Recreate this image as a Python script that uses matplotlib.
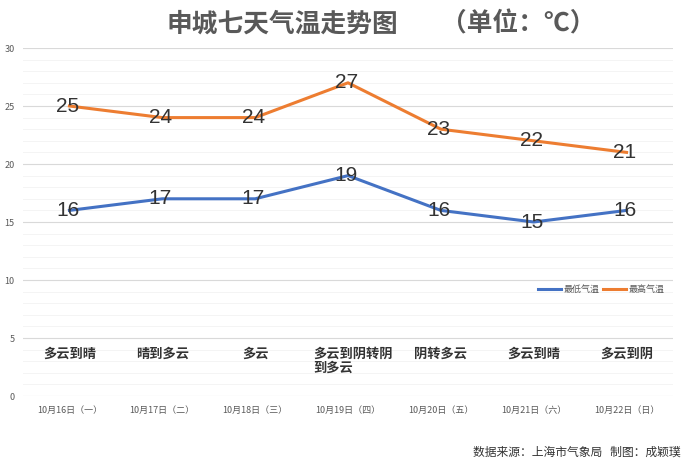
import matplotlib
matplotlib.use("Agg")
import matplotlib.pyplot as plt
from matplotlib.ticker import MultipleLocator

plt.rcParams['font.family'] = ['Noto Sans CJK SC', 'DejaVu Sans']

# data
dates = ["10月16日（一）", "10月17日（二）", "10月18日（三）", "10月19日（四）",
         "10月20日（五）", "10月21日（六）", "10月22日（日）"]
low_temp = [16, 17, 17, 19, 16, 15, 16]
high_temp = [25, 24, 24, 27, 23, 22, 21]
weather = ["多云到晴", "晴到多云", "多云", "多云到阴转阴\n到多云",
           "阴转多云", "多云到晴", "多云到阴"]

blue = "#4472C4"
orange = "#ED7D31"
num_font = ['Liberation Sans Narrow', 'Liberation Sans', 'DejaVu Sans']

fig = plt.figure(figsize=(7, 4.71), dpi=100)
ax = fig.add_axes([23 / 700, 1 - 396 / 471, 650 / 700, 348 / 471])

x = list(range(len(dates)))
ax.plot(x, low_temp, color=blue, lw=2.2, label="最低气温", zorder=3)
ax.plot(x, high_temp, color=orange, lw=2.2, label="最高气温", zorder=3)

for i in x:
    ax.text(i - 0.02, low_temp[i], str(low_temp[i]), ha='center', va='center',
            fontsize=15, color="#333333", family=num_font, zorder=4)
    ax.text(i - 0.02, high_temp[i], str(high_temp[i]), ha='center', va='center',
            fontsize=15, color="#333333", family=num_font, zorder=4)

# weather descriptions
for i, w in enumerate(weather):
    if "\n" in w:
        ax.text(i - 0.37, 4.25, w, ha='left', va='top', fontsize=9.5,
                fontweight='bold', color="#333333", linespacing=1.0)
    else:
        ax.text(i, 4.25, w, ha='center', va='top', fontsize=9.5,
                fontweight='bold', color="#333333")

ax.set_xlim(-0.5, 6.5)
ax.set_ylim(0, 30)
ax.set_xticks(x)
ax.set_xticklabels(dates, fontsize=6.5, color="#595959")
ax.yaxis.set_major_locator(MultipleLocator(5))
ax.yaxis.set_minor_locator(MultipleLocator(1))
ax.tick_params(axis='y', labelsize=6.5, labelcolor="#595959", length=0, pad=6)
ax.tick_params(axis='y', which='minor', length=0)
ax.tick_params(axis='x', length=0, pad=7)
ax.grid(axis='y', which='major', color="#d9d9d9", lw=0.8)
ax.grid(axis='y', which='minor', color="#f2f2f2", lw=0.6)
ax.set_axisbelow(True)
for s in ax.spines.values():
    s.set_visible(False)

ax.legend(loc='lower right', bbox_to_anchor=(1.0, 0.27), ncol=2, frameon=False,
          fontsize=6.5, labelcolor="#595959", handlelength=2.6, handletextpad=0.3,
          columnspacing=0.3)

fig.text(282 / 700, 1 - 24 / 471, "申城七天气温走势图", ha='center', va='center',
         fontsize=18.5, fontweight='bold', color="#595959")
fig.text(518 / 700, 1 - 24 / 471, "（单位：℃）", ha='center', va='center',
         fontsize=18.5, fontweight='bold', color="#595959")
fig.text(681 / 700, 1 - 452 / 471, "数据来源：上海市气象局   制图：成颖璞", ha='right',
         va='center', fontsize=8.5, color="#333333")

fig.savefig("out.png", dpi=100)
